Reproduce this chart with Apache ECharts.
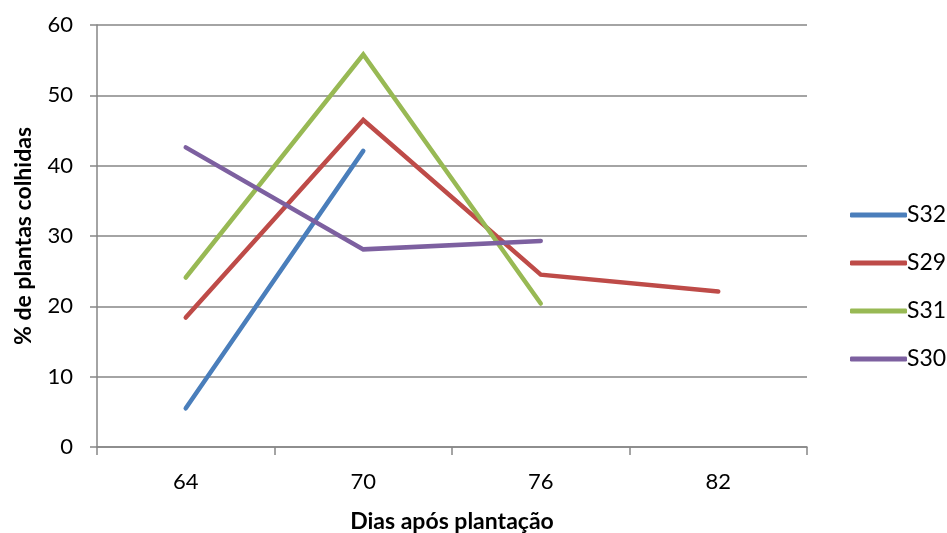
<!DOCTYPE html>
<html>
<head>
<meta charset="utf-8">
<script src="https://cdn.jsdelivr.net/npm/echarts@6/dist/echarts.min.js"></script>
<style>
  html, body { margin: 0; padding: 0; background: #fff; }
  #chart { width: 947px; height: 533px; }
</style>
</head>
<body>
<div id="chart"></div>
<script>
// Days after planting (categories)
const days = ['64', '70', '76', '82'];

// % of plants harvested per sowing
const s32 = [5.5, 42.1, null, null];
const s29 = [18.4, 46.5, 24.5, 22.1];
const s31 = [24.1, 55.8, 20.4, null];
const s30 = [42.6, 28.1, 29.3, null];

const seriesNames = ['S32', 'S29', 'S31', 'S30'];
const seriesData = [s32, s29, s31, s30];
const seriesColors = ['#4A7EBB', '#BE4B48', '#98B954', '#7D60A0'];

const font = 'Lato, "Open Sans", sans-serif';
const gray = '#868686';

const chart = echarts.init(document.getElementById('chart'), null, { renderer: 'canvas' });

chart.setOption({
  backgroundColor: '#ffffff',
  animation: false,
  grid: { left: 97, right: 140, top: 25, bottom: 86, containLabel: false, outerBoundsMode: 'none' },
  legend: {
    orient: 'vertical',
    left: 845,
    top: 198,
    itemWidth: 57,
    itemHeight: 5,
    itemGap: 24,
    icon: 'roundRect',
    data: seriesNames,
    textStyle: { fontFamily: font, fontSize: 23, color: '#000', padding: [0, 0, 0, -5], lineHeight: 24 }
  },
  xAxis: {
    type: 'category',
    data: days,
    boundaryGap: true,
    name: 'Dias após plantação',
    nameLocation: 'middle',
    nameGap: 63,
    nameTextStyle: { fontFamily: font, fontSize: 23, fontWeight: 'bold', color: '#000' },
    axisLine: { lineStyle: { color: gray, width: 1.5 } },
    axisTick: { show: true, length: 8, alignWithLabel: false, lineStyle: { color: gray, width: 1.5 } },
    axisLabel: { fontFamily: font, fontSize: 22, color: '#000', margin: 24 },
    splitLine: { show: false }
  },
  yAxis: {
    type: 'value',
    min: 0,
    max: 60,
    interval: 10,
    name: '% de plantas colhidas',
    nameLocation: 'middle',
    nameGap: 62,
    nameTextStyle: { fontFamily: font, fontSize: 23, fontWeight: 'bold', color: '#000' },
    axisLine: { show: true, lineStyle: { color: gray, width: 1.5 } },
    axisTick: { show: true, length: 7, lineStyle: { color: gray, width: 1.5 } },
    axisLabel: { fontFamily: font, fontSize: 22, color: '#000', margin: 24 },
    splitLine: { show: true, lineStyle: { color: gray, width: 1.5 } }
  },
  series: seriesNames.map((name, i) => ({
    name: name,
    type: 'line',
    data: seriesData[i],
    color: seriesColors[i],
    showSymbol: false,
    symbol: 'none',
    connectNulls: false,
    lineStyle: { width: 4.5, color: seriesColors[i], cap: 'round', join: 'miter' }
  }))
});
</script>
</body>
</html>
